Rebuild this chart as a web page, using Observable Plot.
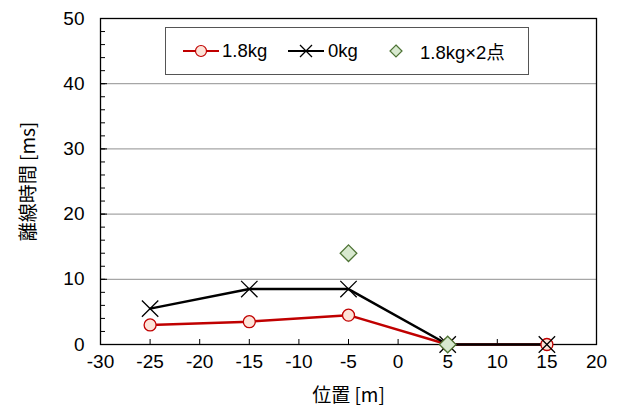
<!DOCTYPE html>
<html><head><meta charset="utf-8">
<script src="https://cdn.jsdelivr.net/npm/d3@7"></script>
<script src="https://cdn.jsdelivr.net/npm/@observablehq/plot@0.6"></script>
<style>
body{margin:0;background:#fff;font-family:"Liberation Sans",Arial,sans-serif;}
#wrap{position:relative;width:617px;height:408px;}
#legend{position:absolute;left:165px;top:27px;width:364px;height:48px;border:1px solid #555;background:#fff;box-sizing:border-box;font-size:18.5px;color:#000;font-family:"Liberation Sans","Noto Sans CJK JP",sans-serif;}
#legend .a{position:absolute;top:0;height:46px;display:flex;align-items:center;white-space:nowrap;}
#legend svg{display:block}
</style></head><body>
<div id="wrap"></div>
<script>
const positions = [-25, -15, -5, 5, 15];
const kg18 = [3, 3.5, 4.5, 0, 0];
const kg0 = [5.5, 8.5, 8.5, 0, 0];
const x2Pos = [-5, 5];
const x2Val = [14, 0];
const xTicks = [-30, -25, -20, -15, -10, -5, 0, 5, 10, 15, 20];
const yTicks = [0, 10, 20, 30, 40, 50];
const yMinor = d3.range(0, 51, 2);
const seriesNames = ["1.8kg", "0kg", "1.8kg×2点"];

const red = "#c00000";
const d18 = positions.map((x, i) => ({x, y: kg18[i]}));
const d0 = positions.map((x, i) => ({x, y: kg0[i]}));
const dx2 = x2Pos.map((x, i) => ({x, y: x2Val[i]}));
const FF = '"Liberation Sans", Arial, sans-serif';
const blank = () => "";

const chart = Plot.plot({
  width: 617, height: 408,
  marginLeft: 100, marginRight: 21, marginTop: 18, marginBottom: 64,
  style: {fontFamily: FF, fontSize: "19px", color: "#000", background: "#fff"},
  x: {domain: [-30, 20]},
  y: {domain: [0, 50]},
  marks: [
    Plot.ruleY([10, 20, 30, 40], {stroke: "#a6a6a6", strokeWidth: 1.2}),
    Plot.axisX({ticks: xTicks, tickSize: 0, tickPadding: 10, fontSize: 19, fontFamily: FF, tickFormat: d => String(d), label: null}),
    Plot.axisX({ticks: xTicks, tickSize: -5, tickFormat: blank, stroke: "#000", label: null}),
    Plot.axisY({ticks: yTicks, tickSize: 0, tickPadding: 16, fontSize: 19, fontFamily: FF, tickFormat: d => String(d), label: null}),
    Plot.axisY({ticks: yMinor, tickSize: -5, tickFormat: blank, label: null}),
    Plot.axisY({ticks: yTicks, tickSize: -7, tickFormat: blank, label: null}),
    Plot.frame({stroke: "#000", strokeWidth: 1.3}),
    Plot.line(d18, {x: "x", y: "y", stroke: red, strokeWidth: 2.5}),
    Plot.line(d0, {x: "x", y: "y", stroke: "#000", strokeWidth: 2.5}),
    Plot.dot(d18, {x: "x", y: "y", r: 6, fill: "#fde3d8", stroke: red, strokeWidth: 1.3}),
    Plot.dot(d0, {x: "x", y: "y", symbol: "times", r: 7.5, stroke: "#000", strokeWidth: 1.3}),
    Plot.dot(dx2, {x: "x", y: "y", symbol: "diamond2", r: 7.5, fill: "#d8e9cf", stroke: "#4e7335", strokeWidth: 1.3}),
    Plot.text(["位置 [m]"], {frameAnchor: "bottom", textAnchor: "middle", lineAnchor: "middle", dy: 51, fontSize: 19, fontFamily: '"Noto Sans CJK JP", sans-serif'}),
    Plot.text(["離線時間 [ms]"], {frameAnchor: "left", textAnchor: "middle", lineAnchor: "middle", dx: -72, rotate: -90, fontSize: 19, fontFamily: '"Noto Sans CJK JP", sans-serif'})
  ]
});
const wrap = document.getElementById("wrap");
wrap.appendChild(chart);

const leg = document.createElement("div");
leg.id = "legend";
function item(left, html) {
  const d = document.createElement("div");
  d.className = "a";
  d.style.left = left + "px";
  d.innerHTML = html;
  leg.appendChild(d);
}
item(17, `<svg width="36" height="16"><line x1="0" y1="8" x2="36" y2="8" stroke="${red}" stroke-width="2.2"/><circle cx="18" cy="8" r="5.5" fill="#fde3d8" stroke="${red}" stroke-width="1.2"/></svg><span style="margin-left:3px">${seriesNames[0]}</span>`);
item(122, `<svg width="36" height="16"><line x1="0" y1="8" x2="36" y2="8" stroke="#000" stroke-width="2.2"/><path d="M12,2L24,14M24,2L12,14" stroke="#000" stroke-width="1.3"/></svg><span style="margin-left:4px">${seriesNames[1]}</span>`);
item(223, `<svg width="14" height="16"><path d="M7,2L13,8L7,14L1,8Z" fill="#d8e9cf" stroke="#4e7335" stroke-width="1.2"/></svg><span style="margin-left:17px">${seriesNames[2]}</span>`);
wrap.appendChild(leg);
</script>
</body></html>
